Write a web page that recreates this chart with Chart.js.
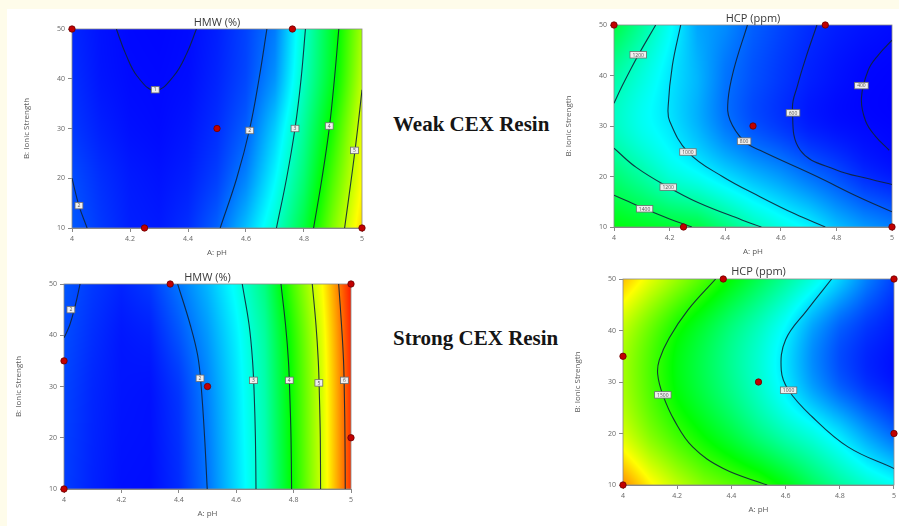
<!DOCTYPE html>
<html>
<head>
<meta charset="utf-8">
<script src="https://cdn.jsdelivr.net/npm/chart.js@4.4.1/dist/chart.umd.min.js"></script>
<style>
  body { margin: 0; width: 899px; height: 526px; overflow: hidden; position: relative; background: #fefcea; font-family: "Open Sans", sans-serif; }
  #sheet { position: absolute; left: 7px; top: 9px; right: 0; bottom: 0; background: #fff; }
  .box { position: absolute; }
  .resin { position: absolute; left: 393px; font: bold 21px "Liberation Serif", serif; color: #151515; white-space: nowrap; line-height: 24px; }
</style>
</head>
<body>
<div id="sheet"></div>
<div class="box" id="b0"><canvas id="c0"></canvas></div>
<div class="box" id="b1"><canvas id="c1"></canvas></div>
<div class="box" id="b2"><canvas id="c2"></canvas></div>
<div class="box" id="b3"><canvas id="c3"></canvas></div>
<div class="resin" style="top:112px">Weak CEX Resin</div>
<div class="resin" style="top:326px">Strong CEX Resin</div>
<script>
// grid the surfaces were read on (A: pH across, B: ionic strength top to bottom)
var phGrid = [4, 4.1, 4.2, 4.3, 4.4, 4.5, 4.6, 4.7, 4.8, 4.9, 5];
var isGrid = [50, 40, 30, 20, 10];
var xTickLabels = ['4', '4.2', '4.4', '4.6', '4.8', '5'];
var yTickLabels = ['10', '20', '30', '40', '50'];

// colour level (0 blue, 1 cyan, 2 green, 3 yellow, 4 red)
var hmwWeakGrid = [
  [0.15, 0.07, 0.03, 0.02, 0.04, 0.12, 0.26, 0.48, 1.18, 1.85, 2.65],
  [0.18, 0.08, 0.04, 0.03, 0.05, 0.14, 0.28, 0.58, 1.25, 1.9, 2.75],
  [0.22, 0.12, 0.06, 0.04, 0.08, 0.18, 0.37, 0.8, 1.4, 2.1, 2.9],
  [0.3, 0.18, 0.1, 0.07, 0.12, 0.25, 0.52, 0.98, 1.55, 2.3, 3.0],
  [0.35, 0.22, 0.12, 0.1, 0.18, 0.38, 0.75, 1.18, 1.75, 2.5, 3.15]
];
var hcpWeakGrid = [
  [1.75, 1.4, 1.04, 0.65, 0.55, 0.375, 0.267, 0.175, 0.114, 0.073, 0.044],
  [1.375, 1.145, 0.914, 0.71, 0.46, 0.317, 0.217, 0.126, 0.067, 0.023, 0.01],
  [1.25, 1.06, 0.914, 0.71, 0.475, 0.317, 0.217, 0.114, 0.061, 0.032, 0.013],
  [1.56, 1.375, 1.166, 1.04, 0.875, 0.725, 0.6, 0.45, 0.317, 0.175, 0.103],
  [1.95, 1.88, 1.81, 1.75, 1.525, 1.287, 1.11, 0.97, 0.75, 0.6, 0.5]
];
var hmwStrongGrid = [
  [0.34, 0.22, 0.14, 0.22, 0.46, 0.72, 1.05, 1.5, 2.3, 3.0, 3.9],
  [0.3, 0.18, 0.09, 0.12, 0.33, 0.6, 0.95, 1.38, 2.15, 2.9, 3.85],
  [0.27, 0.15, 0.08, 0.07, 0.22, 0.52, 0.9, 1.33, 2.1, 2.85, 3.82],
  [0.25, 0.14, 0.07, 0.06, 0.19, 0.48, 0.88, 1.3, 2.08, 2.84, 3.8],
  [0.24, 0.13, 0.06, 0.05, 0.17, 0.45, 0.86, 1.28, 2.06, 2.83, 3.8]
];
var hcpStrongGrid = [
  [3.25, 2.9, 2.6, 2.3, 1.98, 1.68, 1.4, 1.12, 0.82, 0.5, 0.25],
  [2.75, 2.4, 2.05, 1.78, 1.5, 1.25, 0.97, 0.62, 0.36, 0.2, 0.1],
  [2.65, 2.3, 1.95, 1.7, 1.45, 1.2, 0.92, 0.6, 0.35, 0.18, 0.08],
  [2.85, 2.5, 2.22, 1.98, 1.75, 1.5, 1.28, 1.1, 0.88, 0.62, 0.4],
  [3.45, 3.05, 2.75, 2.5, 2.35, 2.2, 1.95, 1.65, 1.4, 1.2, 1.05]
];

// contour lines, [pH, ionic strength]
var hmwWeakLines = [
  [[4.153, 50], [4.185, 45], [4.225, 40.5], [4.287, 37.6], [4.35, 40.5], [4.395, 45], [4.429, 50]],
  [[4.0, 20], [4.024, 14.5], [4.052, 10]],
  [[4.672, 50], [4.645, 40], [4.613, 30], [4.568, 20], [4.511, 10]],
  [[4.805, 50], [4.79, 40], [4.769, 30], [4.74, 20], [4.705, 10]],
  [[4.92, 50], [4.905, 40], [4.887, 30], [4.862, 20], [4.833, 10]],
  [[5.0, 37.8], [4.985, 30], [4.968, 22], [4.94, 10]]
];
var hcpWeakLines = [
  [[4.0, 16.3], [4.05, 15.1], [4.11, 13.6], [4.2, 11.6], [4.28, 10]],
  [[4.0, 25.6], [4.08, 21.8], [4.195, 17.9], [4.3, 14.9], [4.46, 11.4], [4.53, 10]],
  [[4.15, 50], [4.087, 44], [4.03, 38], [4.0, 34.5]],
  [[4.24, 50], [4.21, 42], [4.195, 34], [4.2, 31], [4.266, 24.85], [4.39, 20], [4.525, 16], [4.65, 12.6], [4.76, 10]],
  [[4.48, 50], [4.43, 41], [4.41, 35], [4.417, 31.2], [4.468, 27], [4.525, 25.2], [4.73, 20], [4.87, 16.2], [5.0, 13]],
  [[4.73, 50], [4.69, 43.5], [4.66, 38], [4.642, 33.5], [4.67, 25.2], [4.8, 21.3], [4.92, 19.5], [5.0, 18.4]],
  [[5.0, 47], [4.95, 44], [4.914, 41], [4.89, 35.5], [4.905, 31], [4.94, 28], [4.99, 25.2]]
];
var hmwStrongLines = [
  [[4.056, 50], [4.04, 46], [4.02, 42], [4.0, 39.5]],
  [[4.396, 50], [4.44, 42], [4.466, 36], [4.478, 30], [4.49, 20], [4.499, 10]],
  [[4.621, 50], [4.645, 42], [4.657, 35], [4.663, 28], [4.667, 20], [4.669, 10]],
  [[4.756, 50], [4.772, 42], [4.782, 35], [4.787, 28], [4.791, 20], [4.793, 10]],
  [[4.865, 50], [4.878, 42], [4.886, 35], [4.89, 28], [4.893, 20], [4.894, 10]],
  [[4.957, 50], [4.967, 42], [4.974, 35], [4.977, 28], [4.979, 20], [4.98, 10]]
];
var hcpStrongLines = [
  [[4.342, 50], [4.24, 44], [4.17, 38.5], [4.134, 34.3], [4.128, 31.5], [4.147, 27.5], [4.19, 22.5], [4.257, 17.4], [4.37, 13.2], [4.532, 10]],
  [[4.77, 50], [4.68, 44], [4.6, 38.2], [4.584, 32.3], [4.611, 28.4], [4.697, 23.3], [4.83, 17.4], [5.0, 13.2]]
];

// contour value tags, [pH, ionic strength, text]
var hmwWeakTags = [[4.287, 37.8, '1'], [4.024, 14.5, '2'], [4.613, 29.6, '2'], [4.769, 30, '3'], [4.887, 30.5, '4'], [4.974, 25.6, '5']];
var hcpWeakTags = [[4.087, 44.1, '1200'], [4.11, 13.6, '1400'], [4.195, 17.9, '1200'], [4.266, 24.85, '1000'], [4.468, 27, '800'], [4.644, 32.6, '600'], [4.89, 38, '400']];
var hmwStrongTags = [[4.024, 45, '2'], [4.474, 31.6, '2'], [4.66, 31.2, '3'], [4.785, 31.2, '4'], [4.888, 30.7, '5'], [4.977, 31.2, '6']];
var hcpStrongTags = [[4.147, 27.5, '1500'], [4.611, 28.4, '1000']];

// design points
var weakRuns = [[4, 50], [4.76, 50], [4.5, 30], [4.25, 10], [5, 10]];
var strongRuns = [[4.37, 50], [4, 35], [4.5, 30], [4, 10], [5, 50], [5, 20]];

var panels = [
  { title: 'HMW (%)', grid: hmwWeakGrid, lines: hmwWeakLines, tags: hmwWeakTags, runs: weakRuns,
    box: [8, 10, 364, 252], plot: [72, 29, 362, 228], titleOff: 6 },
  { title: 'HCP (ppm)', grid: hcpWeakGrid, lines: hcpWeakLines, tags: hcpWeakTags, runs: weakRuns,
    box: [562, 10, 337, 252], plot: [614, 25, 892, 227], titleOff: 6 },
  { title: 'HMW (%)', grid: hmwStrongGrid, lines: hmwStrongLines, tags: hmwStrongTags, runs: strongRuns,
    box: [8, 264, 362, 262], plot: [64, 284, 351, 489], titleOff: 6 },
  { title: 'HCP (ppm)', grid: hcpStrongGrid, lines: hcpStrongLines, tags: hcpStrongTags, runs: strongRuns,
    box: [562, 262, 337, 264], plot: [623, 279, 896, 485], titleOff: 7 }
];

function rowValue(row, ph) {
  var fx = (ph - phGrid[0]) / (phGrid[1] - phGrid[0]);
  fx = Math.max(0, Math.min(phGrid.length - 1, fx));
  var i = Math.min(Math.floor(fx), phGrid.length - 2), t = fx - i;
  return row[i] * (1 - t) + row[i + 1] * t;
}

// linear across pH, Catmull-Rom down the ionic strength rows
function levelAt(grid, ph, is) {
  var n = isGrid.length;
  var fy = (isGrid[0] - is) / (isGrid[0] - isGrid[1]);
  fy = Math.max(0, Math.min(n - 1, fy));
  var j = Math.min(Math.floor(fy), n - 2), t = fy - j;
  var p1 = rowValue(grid[j], ph), p2 = rowValue(grid[j + 1], ph);
  var p0 = j > 0 ? rowValue(grid[j - 1], ph) : 2 * p1 - p2;
  var p3 = j + 2 < n ? rowValue(grid[j + 2], ph) : 2 * p2 - p1;
  return 0.5 * ((2 * p1) + (-p0 + p2) * t + (2 * p0 - 5 * p1 + 4 * p2 - p3) * t * t + (-p0 + 3 * p1 - 3 * p2 + p3) * t * t * t);
}

function colour(lv) {
  lv = Math.max(0, Math.min(4, lv));
  var k = Math.min(3, Math.floor(lv)), t = lv - k;
  if (k === 0) return [0, 255 * t, 255];
  if (k === 1) return [0, 255, 255 * (1 - t)];
  if (k === 2) return [255 * t, 255, 0];
  return [255, 255 * (1 - t), 0];
}

function panelPlugin(p) {
  var off = null;
  return {
    id: 'panel',
    beforeDatasetsDraw: function (chart) {
      var a = chart.chartArea, xs = chart.scales.x, ys = chart.scales.y, ctx = chart.ctx;
      var w = Math.round(a.right - a.left), h = Math.round(a.bottom - a.top);
      if (!off) {
        off = document.createElement('canvas');
        off.width = w; off.height = h;
        var octx = off.getContext('2d');
        var img = octx.createImageData(w, h);
        for (var py = 0; py < h; py++) {
          var is = ys.getValueForPixel(a.top + py + 0.5);
          for (var px = 0; px < w; px++) {
            var ph = xs.getValueForPixel(a.left + px + 0.5);
            var c = colour(levelAt(p.grid, ph, is));
            var o = (py * w + px) * 4;
            img.data[o] = c[0]; img.data[o + 1] = c[1]; img.data[o + 2] = c[2]; img.data[o + 3] = 255;
          }
        }
        octx.putImageData(img, 0, 0);
      }
      ctx.save();
      ctx.drawImage(off, a.left, a.top, a.right - a.left, a.bottom - a.top);
      ctx.strokeStyle = '#8a8a8a';
      ctx.lineWidth = 0.8;
      ctx.strokeRect(a.left, a.top, a.right - a.left, a.bottom - a.top);
      ctx.restore();
    },
    afterDatasetDraw: function (chart, args) {
      if (args.index !== 1) return;
      var xs = chart.scales.x, ys = chart.scales.y, ctx = chart.ctx;
      ctx.save();
      ctx.font = '5px "Open Sans", sans-serif';
      ctx.textAlign = 'center';
      ctx.textBaseline = 'middle';
      p.tags.forEach(function (t) {
        var x = xs.getPixelForValue(t[0]), y = ys.getPixelForValue(t[1]);
        var bw = Math.max(7, ctx.measureText(t[2]).width + 5), bh = 6.5;
        ctx.fillStyle = '#efefef';
        ctx.fillRect(x - bw / 2, y - bh / 2, bw, bh);
        ctx.strokeStyle = '#6c6c6c';
        ctx.lineWidth = 0.8;
        ctx.strokeRect(x - bw / 2, y - bh / 2, bw, bh);
        ctx.fillStyle = '#555';
        ctx.fillText(t[2], x, y + 0.3);
      });
      ctx.restore();
    },
    afterDraw: function (chart) {
      var a = chart.chartArea, ctx = chart.ctx;
      var cx = (a.left + a.right) / 2, cy = (a.top + a.bottom) / 2;
      ctx.save();
      ctx.textAlign = 'center';
      ctx.textBaseline = 'middle';
      ctx.fillStyle = '#3a3a3a';
      ctx.font = '11px "Open Sans", sans-serif';
      ctx.fillText(p.title, cx, a.top - p.titleOff);
      ctx.fillStyle = '#5a5a5a';
      ctx.font = '8px "Open Sans", sans-serif';
      ctx.fillText('A: pH', cx, a.bottom + 25);
      ctx.translate(a.left - 45, cy);
      ctx.rotate(-Math.PI / 2);
      ctx.fillText('B: Ionic Strength', 0, 0);
      ctx.restore();
    }
  };
}

panels.forEach(function (p, n) {
  var b = p.box, r = p.plot;
  var holder = document.getElementById('b' + n);
  holder.style.left = b[0] + 'px';
  holder.style.top = b[1] + 'px';
  holder.style.width = b[2] + 'px';
  holder.style.height = b[3] + 'px';
  var cv = document.getElementById('c' + n);
  cv.width = b[2];
  cv.height = b[3];

  var yAxisW = r[0] - b[0], topPad = r[1] - b[1];
  var rightPad = b[0] + b[2] - r[2], xAxisH = b[1] + b[3] - r[3];

  var datasets = [{
    data: p.runs.map(function (q) { return { x: q[0], y: q[1] }; }),
    showLine: false,
    pointRadius: 3.2,
    pointBackgroundColor: '#c20000',
    pointBorderColor: '#6b0000',
    pointBorderWidth: 0.8,
    clip: false
  }];
  p.lines.forEach(function (line) {
    datasets.push({
      data: line.map(function (q) { return { x: q[0], y: q[1] }; }),
      showLine: true,
      pointRadius: 0,
      borderColor: 'rgba(15,35,55,0.9)',
      borderWidth: 1.1,
      tension: 0.4,
      fill: false
    });
  });

  new Chart(cv, {
    type: 'scatter',
    data: { datasets: datasets },
    plugins: [panelPlugin(p)],
    options: {
      responsive: false,
      animation: false,
      events: [],
      layout: { padding: { top: topPad, right: rightPad, left: 0, bottom: 0 } },
      plugins: { legend: { display: false }, tooltip: { enabled: false }, title: { display: false } },
      scales: {
        x: {
          type: 'linear', min: 4, max: 5,
          afterFit: function (s) { s.height = xAxisH; },
          ticks: {
            stepSize: 0.2, autoSkip: false, padding: 3, color: '#666',
            font: { size: 7, family: '"Open Sans", sans-serif' },
            callback: function (v, i) { return xTickLabels[i]; }
          },
          grid: { drawOnChartArea: false, drawTicks: true, tickLength: 4, color: '#888' },
          border: { color: '#888' }
        },
        y: {
          type: 'linear', min: 10, max: 50,
          afterFit: function (s) { s.width = yAxisW; },
          ticks: {
            stepSize: 10, autoSkip: false, padding: 3, color: '#666',
            font: { size: 7, family: '"Open Sans", sans-serif' },
            callback: function (v, i) { return yTickLabels[i]; }
          },
          grid: { drawOnChartArea: false, drawTicks: true, tickLength: 4, color: '#888' },
          border: { color: '#888' }
        }
      }
    }
  });
});
</script>
</body>
</html>
